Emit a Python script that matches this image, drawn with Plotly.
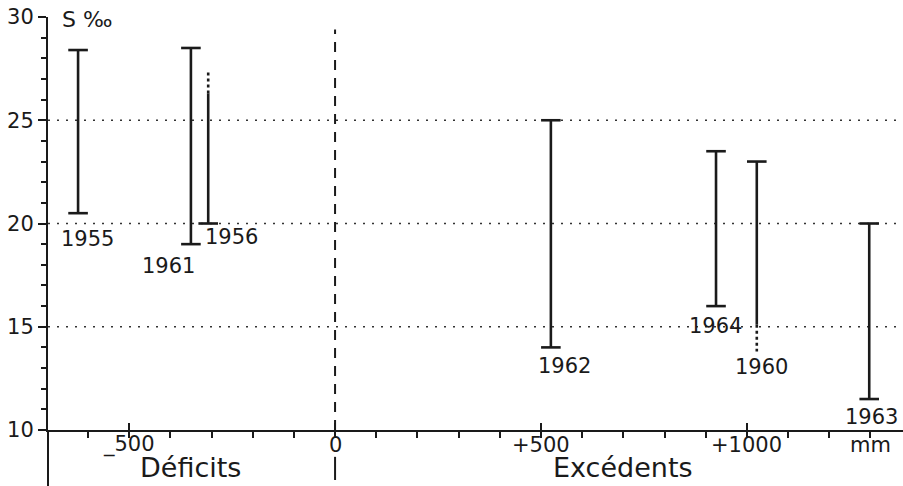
import plotly.graph_objects as go

# ---- data ----
years = ["1955", "1961", "1956", "1962", "1964", "1960", "1963"]
balance_mm = [-624, -350, -308, 524, 925, 1024, 1297]   # deficit (-) / excess (+), mm
sal_low = [20.5, 19.0, 20.0, 14.0, 16.0, 15.1, 11.5]    # S ‰ minimum (solid part)
sal_high = [28.4, 28.5, 26.3, 25.0, 23.5, 23.0, 20.0]   # S ‰ maximum (solid part)
low_cap = [True, True, True, True, True, False, True]
high_cap = [True, True, False, True, True, True, True]
# uncertain (dotted) extensions: (year, from, to)
dotted_ext = [("1956", 26.3, 27.4), ("1960", 15.1, 13.8)]
y_ticks = [10, 15, 20, 25, 30]
x_major = [-500, 0, 500, 1000]
x_major_text = ["_500", "0", "+500", "+1000"]
grid_levels = [15, 20, 25]

# label offsets (pixels) from the lower end of each bar
lab_dx = [9, -22, 23, 14, -1, 5, 2]
lab_dy = [26, 22, 13, 19, 20, 42, 18]

FONT = "DejaVu Sans"
INK = "#1a1a1a"

fig = go.Figure()

# solid bars
xs, ys = [], []
for x, lo, hi in zip(balance_mm, sal_low, sal_high):
    xs += [x, x, None]
    ys += [lo, hi, None]
fig.add_trace(go.Scatter(x=xs, y=ys, mode="lines",
                         line=dict(color=INK, width=2.6), hoverinfo="skip"))

# caps
cx = [x for x, c in zip(balance_mm, low_cap) if c] + [x for x, c in zip(balance_mm, high_cap) if c]
cy = [v for v, c in zip(sal_low, low_cap) if c] + [v for v, c in zip(sal_high, high_cap) if c]
fig.add_trace(go.Scatter(x=cx, y=cy, mode="markers",
                         marker=dict(symbol="line-ew", size=14,
                                     line=dict(color=INK, width=2.6)),
                         hoverinfo="skip"))

# dotted extensions
for yr, a, b in dotted_ext:
    x = balance_mm[years.index(yr)]
    fig.add_trace(go.Scatter(x=[x, x], y=[a, b], mode="lines",
                             line=dict(color=INK, width=2.6, dash="3px,3px"),
                             hoverinfo="skip"))

# year labels
for yr, x, lo, dx, dy in zip(years, balance_mm, sal_low, lab_dx, lab_dy):
    fig.add_annotation(x=x, y=lo, text=yr, showarrow=False, xshift=dx, yshift=-dy,
                       font=dict(family=FONT, size=21, color=INK))

# dotted horizontal reference lines
for g in grid_levels:
    fig.add_shape(type="line", xref="paper", x0=0, x1=1, yref="y", y0=g, y1=g,
                  line=dict(color="#333", width=1.5, dash="2px,7px"), layer="below")

# dashed vertical line at 0
fig.add_shape(type="line", xref="x", x0=0, x1=0, yref="y", y0=10, y1=29.4,
              line=dict(color=INK, width=2, dash="10px,8px"), layer="below")
# separator below axis at 0
fig.add_shape(type="line", xref="x", x0=0, x1=0, yref="paper", y0=-0.065, y1=-0.121,
              line=dict(color=INK, width=2))
# y axis extension below x axis
fig.add_shape(type="line", xref="paper", x0=0, x1=0, yref="paper", y0=0, y1=-0.14,
              line=dict(color=INK, width=2))

# x tick labels
for v, t in zip(x_major, x_major_text):
    fig.add_annotation(x=v, y=-0.036, xref="x", yref="paper", text=t, showarrow=False,
                       font=dict(family=FONT, size=21, color=INK), yanchor="middle")
fig.add_annotation(x=1300, y=-0.036, xref="x", yref="paper", text="mm", showarrow=False,
                   font=dict(family=FONT, size=21, color=INK), yanchor="middle")
fig.add_annotation(x=-350, y=-0.092, xref="x", yref="paper", text="Déficits", showarrow=False,
                   font=dict(family=FONT, size=27, color=INK), yanchor="middle")
fig.add_annotation(x=700, y=-0.092, xref="x", yref="paper", text="Excédents", showarrow=False,
                   font=dict(family=FONT, size=27, color=INK), yanchor="middle")
fig.add_annotation(x=0.014, y=0.993, xref="paper", yref="paper", text="S ‰", showarrow=False,
                   font=dict(family=FONT, size=22, color=INK), xanchor="left", yanchor="middle")

fig.update_layout(
    width=903, height=486, showlegend=False,
    margin=dict(l=48, r=0, t=17, b=56),
    paper_bgcolor="white", plot_bgcolor="white",
    xaxis=dict(range=[-697, 1379], showgrid=False, zeroline=False,
               showline=True, linecolor=INK, linewidth=2,
               tickmode="array", tickvals=x_major, ticks="inside", ticklen=7,
               tickwidth=1.5, tickcolor=INK, showticklabels=False,
               minor=dict(tickmode="linear", tick0=0, dtick=100, ticks="outside",
                          ticklen=6, tickwidth=1.5, tickcolor=INK)),
    yaxis=dict(range=[10, 30], showgrid=False, zeroline=False,
               showline=True, linecolor=INK, linewidth=2,
               tickmode="array", tickvals=y_ticks, ticks="outside", ticklen=8,
               tickwidth=1.5, tickcolor=INK,
               tickfont=dict(family=FONT, size=21, color=INK),
               minor=dict(tickmode="linear", tick0=10, dtick=1, ticks="outside",
                          ticklen=5, tickwidth=1.5, tickcolor=INK)),
)

fig.write_html("out.html", config={"displayModeBar": False},
               post_script="document.body.style.margin='0px';")
